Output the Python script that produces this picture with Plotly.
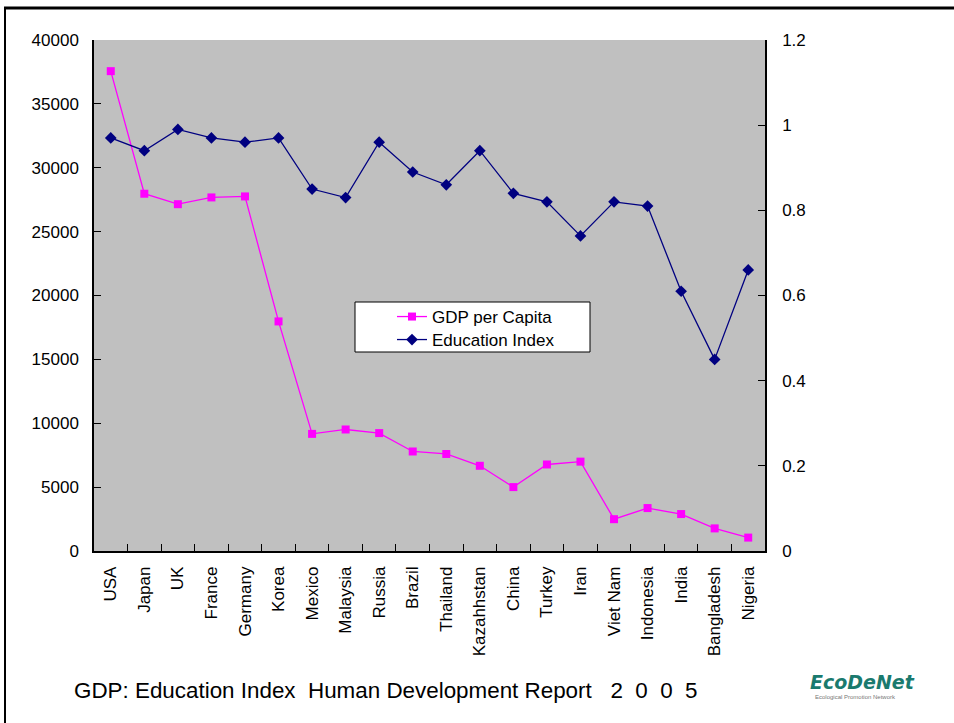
import plotly.graph_objects as go

# データ: Human Development Report 2005
countries = ["USA", "Japan", "UK", "France", "Germany", "Korea", "Mexico", "Malaysia",
             "Russia", "Brazil", "Thailand", "Kazahhstan", "China", "Turkey", "Iran",
             "Viet Nam", "Indonesia", "India", "Bangladesh", "Nigeria"]
gdp_per_capita = [37562, 27967, 27147, 27677, 27756, 17971, 9168, 9512, 9230, 7790,
                  7595, 6671, 5003, 6772, 6995, 2490, 3361, 2892, 1770, 1050]
education_index = [0.97, 0.94, 0.99, 0.97, 0.96, 0.97, 0.85, 0.83, 0.96, 0.89,
                   0.86, 0.94, 0.84, 0.82, 0.74, 0.82, 0.81, 0.61, 0.45, 0.66]

# プロット領域 (px)
W, H = 954, 723
L, R, T, B = 94, 765, 40, 551
pw, ph = R - L, B - T


def px_x(v):
    return (v - L) / pw


def px_y(v):
    return (B - v) / ph


fig = go.Figure()
fig.add_trace(go.Scatter(
    x=countries, y=gdp_per_capita, name="GDP per Capita",
    mode="lines+markers", legend="legend",
    line=dict(color="#FF00FF", width=1.3),
    marker=dict(symbol="square", size=8, color="#FF00FF"),
))
fig.add_trace(go.Scatter(
    x=countries, y=education_index, name="Education Index",
    mode="lines+markers", yaxis="y2", legend="legend2",
    line=dict(color="#000080", width=1.3),
    marker=dict(symbol="diamond", size=9, color="#000080"),
))

axis_font = dict(family="Liberation Sans, Arial", size=17, color="black")
legend_font = dict(family="Liberation Sans, Arial", size=17)

fig.update_layout(
    width=W, height=H,
    margin=dict(l=L, r=W - R, t=T, b=H - B),
    paper_bgcolor="white",
    plot_bgcolor="#C0C0C0",
    font=dict(family="Liberation Sans, Arial", color="black"),
    xaxis=dict(
        tickangle=-90, tickfont=dict(family="Liberation Sans, Arial", size=17),
        showline=True, linecolor="black", linewidth=1.5,
        ticks="inside", tickson="boundaries", ticklen=7, tickcolor="black",
        ticklabelstandoff=7,
        showgrid=False, range=[-0.5, len(countries) - 0.5],
    ),
    yaxis=dict(
        range=[0, 40000], dtick=5000, tickformat="d",
        tickfont=axis_font, showline=True, linecolor="black", linewidth=1.5,
        ticks="inside", ticklen=7, tickcolor="black", ticklabelstandoff=10,
        showgrid=False, zeroline=False,
    ),
    yaxis2=dict(
        range=[0, 1.2], dtick=0.2, overlaying="y", side="right",
        tickfont=axis_font, showline=True, linecolor="black", linewidth=1.5,
        ticks="inside", ticklen=7, tickcolor="black", ticklabelstandoff=12,
        showgrid=False, zeroline=False,
    ),
    # 行間を詰めるため凡例を2つに分ける
    legend=dict(
        x=px_x(392), y=px_y(299), xanchor="left", yanchor="top",
        bgcolor="rgba(0,0,0,0)", borderwidth=0, font=legend_font,
    ),
    legend2=dict(
        x=px_x(392), y=px_y(322), xanchor="left", yanchor="top",
        bgcolor="rgba(0,0,0,0)", borderwidth=0, font=legend_font,
    ),
    showlegend=True,
)

# 凡例の枠
fig.add_shape(type="rect", xref="paper", yref="paper", layer="above",
              x0=px_x(355), x1=px_x(590), y0=px_y(352), y1=px_y(302),
              fillcolor="white", line=dict(color="black", width=1))

# スライドの枠線 (上と左)
fig.add_shape(type="line", xref="paper", yref="paper",
              x0=px_x(4), x1=px_x(W), y0=px_y(8), y1=px_y(8),
              line=dict(color="black", width=3))
fig.add_shape(type="line", xref="paper", yref="paper",
              x0=px_x(5), x1=px_x(5), y0=px_y(8), y1=px_y(H),
              line=dict(color="black", width=2))

# 下部テキスト
fig.add_annotation(
    xref="paper", yref="paper", x=px_x(72), y=px_y(690),
    xanchor="left", yanchor="middle", showarrow=False,
    text="GDP: Education Index&nbsp;&nbsp;Human Development Report&nbsp;&nbsp;&nbsp;"
         "2&nbsp;&nbsp;0&nbsp;&nbsp;0&nbsp;&nbsp;5",
    font=dict(family="Liberation Sans, Arial", size=22.4, color="black"),
)

# ロゴ
fig.add_annotation(
    xref="paper", yref="paper", x=px_x(862), y=px_y(682),
    xanchor="center", yanchor="middle", showarrow=False,
    text="<b><i>EcoDeNet</i></b>",
    font=dict(family="DejaVu Sans", size=19, color="#1A7A6E"),
)
fig.add_annotation(
    xref="paper", yref="paper", x=px_x(855), y=px_y(697),
    xanchor="center", yanchor="middle", showarrow=False,
    text="Ecological Promotion Network",
    font=dict(family="Liberation Sans, Arial", size=6, color="#777777"),
)

# ページ余白を消して座標を合わせる
fig.write_html("out.html", config={"displayModeBar": False},
               post_script="document.body.style.margin='0';")
